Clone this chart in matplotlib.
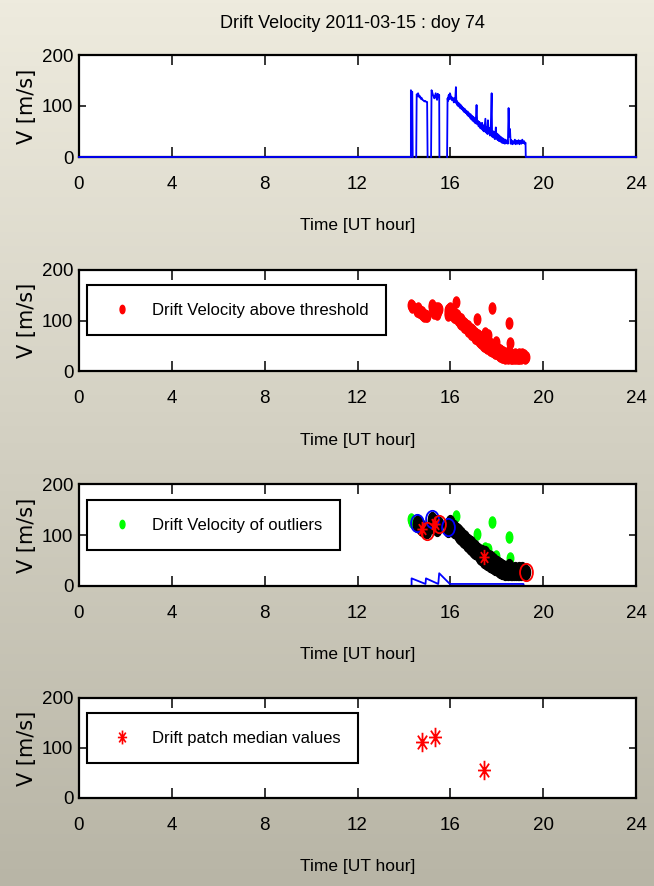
import numpy as np
import matplotlib
matplotlib.use("Agg")
import matplotlib.pyplot as plt
from matplotlib.path import Path
from matplotlib.transforms import Affine2D
from matplotlib.lines import Line2D

# ---------------- data ----------------
# full drift-velocity trace (UT hour, m/s); NaN separates data gaps
trace_hour = [0.00, 14.30,
              14.30, 14.33, 14.36, 14.38, np.nan,
              14.53, 14.55, 14.58, 14.61, 14.64, 14.67, 14.70, 14.73, 14.76, 14.80,
              14.84, 14.88, 14.92, 14.96, 15.00, 15.02, np.nan,
              15.17, 15.19, 15.22, 15.25, 15.28, 15.31, 15.34, 15.37, 15.40, 15.43,
              15.46, 15.49, 15.52, 15.53, np.nan,
              15.86, 15.88, 15.90, 15.92, 15.94, 15.96, 15.98, 16.01, 16.03, 16.05,
              16.08, 16.10, 16.13, 16.15, 16.17, 16.19, 16.21, 16.24, 16.26, 16.28,
              16.31, 16.33, 16.36, 16.39, 16.42, 16.45, 16.48, 16.51, 16.54, 16.57,
              16.60, 16.63, 16.66, 16.69, 16.72, 16.75, 16.78, 16.81, 16.84, 16.87,
              16.90, 16.93, 16.96, 16.99, 17.02, 17.05, 17.08, 17.10, 17.13, 17.16,
              17.19, 17.22, 17.25, 17.28, 17.31, 17.34, 17.37, 17.40, 17.43, 17.46,
              17.49, 17.51, 17.54, 17.57, 17.60, 17.62, 17.65, 17.68, 17.71, 17.74,
              17.78, 17.80, 17.83, 17.86, 17.89, 17.92, 17.96, 17.98, 18.01, 18.04,
              18.07, 18.10, 18.13, 18.16, 18.19, 18.22, 18.25, 18.28, 18.31, 18.35,
              18.38, 18.42, 18.45, 18.48, 18.51, 18.54, 18.57, 18.60, 18.63, 18.67,
              18.70, 18.74, 18.78, 18.82, 18.86, 18.90, 18.94, 18.98, 19.02, 19.06,
              19.10, 19.14, 19.18, 19.21, 19.24, 19.25, 24.00]
trace_vel = [0, 0,
             131, 126, 128, 0, np.nan,
             0, 123, 119, 125, 121, 117, 119, 114, 116, 112,
             111, 109, 110, 108, 108, 0, np.nan,
             0, 131, 127, 122, 119, 115, 120, 125, 116, 112,
             124, 118, 122, 0, np.nan,
             0, 115, 110, 120, 122, 113, 125, 121, 114, 118,
             111, 116, 114, 107, 115, 109, 112, 137, 105, 110,
             101, 107, 99, 105, 96, 102, 94, 99, 91, 96,
             88, 94, 86, 91, 83, 89, 80, 86, 77, 84,
             74, 81, 71, 79, 69, 76, 66, 73, 102, 64,
             71, 60, 69, 57, 66, 55, 67, 52, 62, 50,
             65, 75, 48, 59, 45, 72, 46, 57, 42, 54,
             125, 40, 51, 38, 49, 35, 58, 36, 46, 33,
             44, 31, 41, 30, 39, 28, 37, 27, 35, 26,
             34, 27, 32, 26, 96, 40, 55, 26, 33, 25,
             31, 26, 34, 25, 32, 26, 33, 25, 32, 26,
             34, 27, 31, 26, 28, 0, 0]
threshold = 20

# samples flagged as outliers
outlier_hours = [14.30, 14.33, 14.36, 16.24, 17.13, 17.51, 17.62, 17.78,
                 17.96, 18.51, 18.57]

# drift patches: start, end and median
patch_start_hour = [14.55, 15.19, 15.88]
patch_start_vel = [123, 131, 115]
patch_end_hour = [15.00, 15.52, 19.24]
patch_end_vel = [108, 122, 28]
patch_median_hour = [14.78, 15.35, 17.44]
patch_median_vel = [112, 122, 57]

# patch indicator trace
flag_hour = [14.33, 14.33, 14.93, 14.95, 15.48, 15.52, 15.98, 19.15, 19.17]
flag_vel = [0, 15, 4, 15, 4, 25, 4, 4, 0]

x_ticks = [0, 4, 8, 12, 16, 20, 24]
y_ticks = [0, 100, 200]
title = "Drift Velocity 2011-03-15 : doy 74"
xlabel = "Time [UT hour]"
ylabel = "V [m/s]"
legend_labels = ["Drift Velocity above threshold",
                 "Drift Velocity of outliers",
                 "Drift patch median values"]

# ---------------- styling ----------------
plt.rcParams["font.family"] = ["Liberation Sans", "DejaVu Sans"]


def tall(path, stretch):
    return path.transformed(Affine2D().scale(1, stretch))


dot = tall(Path.unit_circle(), 1.7)
ring = tall(Path.unit_circle(), 1.35)
d = 0.7071
star_path = tall(Path(
    [(0, -1), (0, 1), (-1, 0), (1, 0), (-d, -d), (d, d), (-d, d), (d, -d)],
    [Path.MOVETO, Path.LINETO] * 4), 1.5)

trace_hour = np.array(trace_hour, dtype=float)
trace_vel = np.array(trace_vel, dtype=float)
valid = ~np.isnan(trace_vel) & (trace_vel > threshold)
is_out = np.isin(np.round(trace_hour, 2), outlier_hours)
above_h, above_v = trace_hour[valid], trace_vel[valid]
out_h, out_v = trace_hour[valid & is_out], trace_vel[valid & is_out]
in_mask = valid & ~is_out & (trace_hour >= patch_start_hour[0])
in_h, in_v = trace_hour[in_mask], trace_vel[in_mask]

W, H = 654, 886
fig = plt.figure(figsize=(W / 100, H / 100), dpi=100)

# shaded background
bg = fig.add_axes([0, 0, 1, 1], zorder=-10)
top_c = np.array([238, 235, 222]) / 255
bot_c = np.array([184, 181, 166]) / 255
t = np.linspace(0, 1, 256)[:, None, None]
grad = top_c * (1 - t) + bot_c * t
bg.imshow(np.repeat(grad, 2, axis=1), aspect="auto", extent=[0, 1, 0, 1])
bg.axis("off")

left_px, right_px = 79, 636
panels_px = [(55, 157), (270, 371), (484, 586), (698, 798)]
axes = []
for top, bottom in panels_px:
    ax = fig.add_axes([left_px / W, 1 - bottom / H,
                       (right_px - left_px) / W, (bottom - top) / H])
    ax.set_facecolor("white")
    ax.set_xlim(0, 24)
    ax.set_ylim(0, 200)
    ax.set_xticks(x_ticks)
    ax.set_yticks(y_ticks)
    for s in ax.spines.values():
        s.set_linewidth(1.6)
    ax.tick_params(axis="both", direction="in", top=True, right=True,
                   labelsize=13.5, width=1.1)
    ax.tick_params(axis="x", length=7.5, pad=14)
    ax.tick_params(axis="y", length=5, pad=4)
    ax.set_xlabel(xlabel, fontsize=12.5, va="center")
    ax.xaxis.set_label_coords(0.5, -69 / (bottom - top))
    ax.set_ylabel(ylabel, fontsize=15, family="DejaVu Sans", va="center")
    ax.yaxis.set_label_coords((27 - left_px) / (right_px - left_px), 0.5)
    axes.append(ax)

fig.text(0.5 * (left_px + right_px) / W - 5 / W, 1 - 24 / H, title,
         fontsize=13, ha="center", va="center")

leg_kw = dict(loc="upper left", borderaxespad=0, fancybox=False,
              framealpha=1, edgecolor="black", fontsize=12,
              handlelength=2.1, handletextpad=0.75, borderpad=1.05)

# panel 1: raw trace
ax = axes[0]
ax.plot(trace_hour, trace_vel, color="#0000ff", lw=1.3, zorder=3, clip_on=False)

# panel 2: samples above threshold
ax = axes[1]
ax.plot(above_h, above_v, ls="none", marker=dot, ms=8, color="#ff0000",
        mec="#ff0000")
h = Line2D([], [], ls="none", marker=dot, ms=6, color="#ff0000")
lg = ax.legend([h], [legend_labels[0]], bbox_to_anchor=(8 / 557, 0.851), **leg_kw)
lg.get_frame().set_linewidth(1.5)

# panel 3: outliers, accepted samples, patch limits and medians
ax = axes[2]
ax.plot(out_h, out_v, ls="none", marker=dot, ms=8, color="#00ff00")
ax.plot(in_h, in_v, ls="none", marker=dot, ms=10, color="black")
ax.plot(patch_start_hour, patch_start_vel, ls="none", marker=ring, ms=12.5,
        mfc="none", mec="#0000ff", mew=1.3)
ax.plot(patch_end_hour, patch_end_vel, ls="none", marker=ring, ms=12.5,
        mfc="none", mec="#ff0000", mew=1.3)
ax.plot(patch_median_hour, patch_median_vel, ls="none", marker=star_path,
        ms=11, mfc="none", mec="#ff0000", mew=1.3)
ax.plot(flag_hour, flag_vel, color="#0000ff", lw=1.3)
h = Line2D([], [], ls="none", marker=dot, ms=6, color="#00ff00")
lg = ax.legend([h], [legend_labels[1]], bbox_to_anchor=(8 / 557, 0.84), **leg_kw)
lg.get_frame().set_linewidth(1.5)

# panel 4: patch medians
ax = axes[3]
ax.plot(patch_median_hour, patch_median_vel, ls="none", marker=star_path,
        ms=14, mfc="none", mec="#ff0000", mew=1.3)
h = Line2D([], [], ls="none", marker=star_path, ms=10, mfc="none",
           mec="#ff0000", mew=1.2)
lg = ax.legend([h], [legend_labels[2]], bbox_to_anchor=(8 / 557, 0.85), **leg_kw)
lg.get_frame().set_linewidth(1.5)

fig.savefig("out.png", dpi=100)
